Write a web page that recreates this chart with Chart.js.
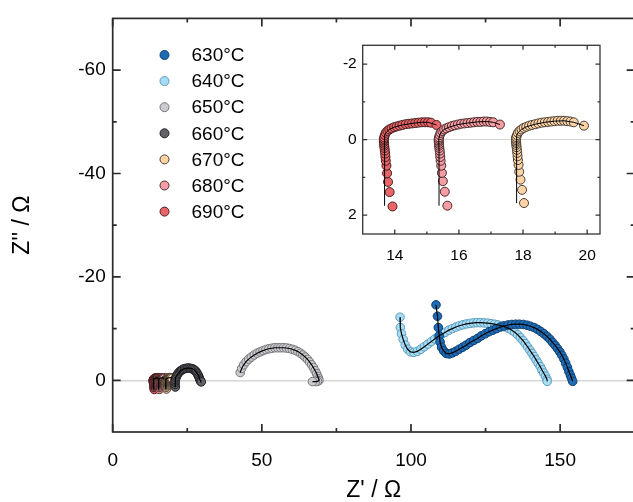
<!DOCTYPE html>
<html>
<head>
<meta charset="utf-8">
<script src="https://cdn.jsdelivr.net/npm/chart.js@4.4.1/dist/chart.umd.min.js"></script>
<style>
  html, body { margin: 0; padding: 0; background: #fff; overflow: hidden; }
  #wrap { position: relative; width: 640px; height: 502px; }
  #main { position: absolute; left: 0; top: 0; }
  #inset { position: absolute; left: 320px; top: 30px; }
</style>
</head>
<body>
<div id="wrap">
  <canvas id="main" width="640" height="502"></canvas>
  <canvas id="inset" width="290" height="240"></canvas>
</div>
<script>
// Nyquist plots (Z' vs Z'') for a cell at 630-690 °C, with a zoom on the
// three hottest runs in the inset.

const fontFamily = "'Liberation Sans', Arial, sans-serif";

const seriesNames = ["630°C", "640°C", "650°C", "660°C", "670°C", "680°C", "690°C"];

// measured points, Z' (re) and Z'' (im) in ohm
const re630 = [108.39, 108.88, 109.17, 109.47, 109.76, 110.25, 110.94, 111.82, 112.80, 113.88,
  114.96, 116.14, 117.32, 118.50, 119.77, 121.05, 122.32, 123.60, 124.87, 126.15,
  127.42, 128.70, 129.97, 131.25, 132.53, 133.80, 135.08, 136.35, 137.63, 138.90,
  140.08, 141.26, 142.43, 143.51, 144.59, 145.58, 146.56, 147.44, 148.32, 149.11,
  149.89, 150.58, 151.27, 151.86, 152.44, 152.93, 153.43, 153.82, 154.21];
const im630 = [-14.6, -12.4, -10.2, -8.6, -7.4, -6.4, -5.7, -5.2, -5.1, -5.3,
  -5.6, -6.0, -6.4, -6.8, -7.3, -7.7, -8.1, -8.6, -9.0, -9.4,
  -9.7, -10.0, -10.3, -10.5, -10.7, -10.8, -10.85, -10.85, -10.8, -10.65,
  -10.45, -10.2, -9.85, -9.45, -9.0, -8.5, -7.95, -7.35, -6.75, -6.15,
  -5.5, -4.85, -4.1, -3.3, -2.5, -1.7, -1.0, -0.4, 0.2];

const re640 = [96.32, 96.42, 96.81, 97.40, 98.09, 98.87, 99.85, 100.93, 102.11, 103.29,
  104.47, 105.64, 106.82, 107.99, 109.17, 110.35, 111.53, 112.71, 113.88, 115.06,
  116.24, 117.42, 118.60, 119.77, 120.95, 122.13, 123.30, 124.48, 125.66, 126.84,
  128.01, 129.19, 130.37, 131.55, 132.72, 133.80, 134.78, 135.77, 136.65, 137.53,
  138.32, 139.10, 139.89, 140.57, 141.26, 141.95, 142.63, 143.32, 143.91, 144.50,
  145.09, 145.58, 145.68];
const im640 = [-12.2, -10.2, -9.0, -7.9, -6.8, -6.0, -5.5, -5.4, -5.6, -6.0,
  -6.5, -7.0, -7.5, -8.0, -8.5, -8.9, -9.3, -9.7, -10.0, -10.3,
  -10.55, -10.75, -10.9, -11.0, -11.1, -11.15, -11.15, -11.1, -11.05, -10.95,
  -10.85, -10.7, -10.55, -10.35, -10.05, -9.7, -9.3, -8.8, -8.25, -7.7,
  -7.1, -6.45, -5.8, -5.2, -4.6, -3.95, -3.3, -2.65, -2.0, -1.4,
  -0.8, -0.2, 0.2];

const re650 = [42.75, 43.24, 43.93, 44.71, 45.59, 46.48, 47.46, 48.44, 49.42, 50.40,
  51.38, 52.36, 53.34, 54.33, 55.31, 56.29, 57.27, 58.25, 59.23, 60.21,
  61.19, 62.08, 62.96, 63.74, 64.53, 65.31, 66.00, 66.69, 67.28, 67.87,
  68.36, 68.75, 69.04, 69.14, 68.65, 67.96, 66.98];
const im650 = [-1.5, -2.3, -3.0, -3.6, -4.1, -4.5, -4.9, -5.25, -5.5, -5.75,
  -5.95, -6.1, -6.2, -6.3, -6.3, -6.3, -6.3, -6.25, -6.15, -6.0,
  -5.8, -5.55, -5.25, -4.9, -4.5, -4.05, -3.55, -3.0, -2.45, -1.85,
  -1.3, -0.75, -0.3, 0.05, 0.2, 0.25, 0.25];

const re660 = [21.0, 20.9, 20.9, 20.9, 21.0, 21.2, 21.4, 21.7, 22.0, 22.4,
  22.8, 23.2, 23.6, 24.1, 24.6, 25.1, 25.6, 26.1, 26.6, 27.0,
  27.4, 27.8, 28.1, 28.4, 28.7, 28.9, 29.1, 29.3, 29.5, 29.7];
const im660 = [1.3, 0.8, 0.4, 0.1, -0.2, -0.5, -0.8, -1.1, -1.4, -1.65,
  -1.85, -2.0, -2.15, -2.25, -2.3, -2.35, -2.35, -2.3, -2.25, -2.15,
  -2.0, -1.8, -1.55, -1.25, -0.95, -0.65, -0.35, -0.05, 0.2, 0.3];

const re670 = [18.03, 17.97, 17.92, 17.88, 17.86, 17.84, 17.83, 17.82, 17.81, 17.80,
  17.79, 17.79, 17.78, 17.78, 17.78, 17.79, 17.81, 17.84, 17.89, 17.95,
  18.02, 18.10, 18.19, 18.28, 18.38, 18.48, 18.58, 18.68, 18.78, 18.88,
  18.98, 19.08, 19.18, 19.28, 19.38, 19.48, 19.58, 19.90];
const im670 = [1.68, 1.33, 1.06, 0.85, 0.67, 0.54, 0.44, 0.35, 0.27, 0.20,
  0.14, 0.09, 0.05, 0.01, -0.03, -0.07, -0.12, -0.18, -0.23, -0.27,
  -0.31, -0.34, -0.37, -0.39, -0.41, -0.43, -0.45, -0.46, -0.47, -0.48,
  -0.49, -0.50, -0.50, -0.50, -0.49, -0.48, -0.46, -0.37];

const re680 = [15.64, 15.56, 15.50, 15.47, 15.45, 15.43, 15.42, 15.41, 15.40, 15.39,
  15.38, 15.38, 15.37, 15.37, 15.37, 15.38, 15.40, 15.43, 15.48, 15.54,
  15.61, 15.69, 15.78, 15.87, 15.97, 16.07, 16.17, 16.27, 16.37, 16.47,
  16.57, 16.67, 16.77, 16.87, 16.97, 17.07, 17.28];
const im680 = [1.75, 1.38, 1.10, 0.88, 0.69, 0.56, 0.46, 0.37, 0.29, 0.22,
  0.16, 0.11, 0.06, 0.02, -0.02, -0.06, -0.12, -0.18, -0.23, -0.27,
  -0.30, -0.33, -0.36, -0.38, -0.40, -0.42, -0.43, -0.44, -0.45, -0.46,
  -0.47, -0.47, -0.48, -0.48, -0.47, -0.46, -0.40];

const re690 = [13.93, 13.84, 13.79, 13.76, 13.74, 13.72, 13.71, 13.70, 13.69, 13.68,
  13.67, 13.67, 13.66, 13.66, 13.66, 13.67, 13.69, 13.72, 13.77, 13.83,
  13.90, 13.98, 14.06, 14.15, 14.24, 14.34, 14.44, 14.54, 14.64, 14.74,
  14.84, 14.94, 15.04, 15.13, 15.30];
const im690 = [1.77, 1.39, 1.12, 0.89, 0.69, 0.56, 0.46, 0.37, 0.29, 0.22,
  0.16, 0.11, 0.06, 0.02, -0.02, -0.06, -0.12, -0.18, -0.23, -0.27,
  -0.30, -0.33, -0.35, -0.37, -0.39, -0.41, -0.42, -0.43, -0.44, -0.45,
  -0.46, -0.46, -0.46, -0.45, -0.39];

// fitted curves for the three hottest runs (vertical inductive tail)
const fitRe670 = [17.80, 17.80, 17.80, 17.79, 17.81, 17.86, 17.95, 18.10, 18.38, 18.68, 18.98, 19.28, 19.58, 19.90];
const fitIm670 = [1.68, 0.8, 0.3, 0.0, -0.12, -0.2, -0.27, -0.34, -0.41, -0.46, -0.49, -0.5, -0.46, -0.37];
const fitRe680 = [15.38, 15.38, 15.38, 15.37, 15.40, 15.45, 15.54, 15.69, 15.97, 16.27, 16.57, 16.87, 17.07, 17.28];
const fitIm680 = [1.75, 0.8, 0.3, 0.0, -0.12, -0.2, -0.27, -0.33, -0.4, -0.44, -0.47, -0.48, -0.46, -0.4];
const fitRe690 = [13.69, 13.69, 13.68, 13.67, 13.69, 13.74, 13.83, 13.98, 14.24, 14.54, 14.84, 15.04, 15.30];
const fitIm690 = [1.75, 0.8, 0.3, 0.0, -0.12, -0.2, -0.27, -0.33, -0.39, -0.43, -0.46, -0.46, -0.39];

const mainXTicks = [0, 50, 100, 150];
const mainXMinor = [25, 75, 125];
const mainYTicks = [-60, -40, -20, 0];
const mainYMinor = [-50, -30, -10];
const insetXTicks = [14, 16, 18, 20];
const insetXMinor = [15, 17, 19];
const insetYTicks = [-2, 0, 2];
const insetYMinor = [-1, 1];

const fills = ["#1f6bb4", "#a8dcf4", "#cbcbcf", "#646468", "#fcd3a6", "#f49ea3", "#ea6468"];
const edges = ["#0e3f73", "#5d9dbd", "#77777b", "#222226", "#4a3e33", "#4a2a2c", "#45201f"];

const seriesRe = [re630, re640, re650, re660, re670, re680, re690];
const seriesIm = [im630, im640, im650, im660, im670, im680, im690];
const fitRe = [re630, re640, re650, re660, fitRe670, fitRe680, fitRe690];
const fitIm = [im630, im640, im650, im660, fitIm670, fitIm680, fitIm690];

function pts(xs, ys) {
  return xs.map((x, i) => ({ x: x, y: ys[i] }));
}

function buildSets(indices, radius, lineWidth) {
  const sets = [];
  indices.forEach((i) => {
    sets.push({
      label: seriesNames[i],
      data: pts(seriesRe[i], seriesIm[i]),
      showLine: false,
      pointRadius: radius,
      pointBackgroundColor: fills[i],
      pointBorderColor: edges[i],
      pointBorderWidth: 1,
      order: i + 1,
    });
    sets.push({
      label: seriesNames[i] + " fit",
      data: pts(fitRe[i], fitIm[i]),
      showLine: true,
      pointRadius: 0,
      borderColor: "#000",
      borderWidth: lineWidth,
      tension: 0,
      order: 0,
    });
  });
  return sets;
}

// box frame with inward major/minor ticks on all four sides
const framePlugin = {
  id: "frame",
  afterDatasetsDraw(chart, args, o) {
    const { ctx, chartArea: a } = chart;
    const sx = chart.scales.x;
    const sy = chart.scales.y;
    ctx.save();
    ctx.strokeStyle = o.color;
    ctx.lineWidth = o.width;
    ctx.beginPath();
    const xMarks = (vals, len) => {
      vals.forEach((v) => {
        const px = sx.getPixelForValue(v);
        ctx.moveTo(px, a.bottom);
        ctx.lineTo(px, a.bottom - len);
        ctx.moveTo(px, a.top);
        ctx.lineTo(px, a.top + len);
      });
    };
    const yMarks = (vals, len) => {
      vals.forEach((v) => {
        const py = sy.getPixelForValue(v);
        ctx.moveTo(a.left, py);
        ctx.lineTo(a.left + len, py);
        ctx.moveTo(a.right, py);
        ctx.lineTo(a.right - len, py);
      });
    };
    xMarks(o.xMajor, o.majorLen);
    xMarks(o.xMinor, o.minorLen);
    yMarks(o.yMajor, o.majorLen);
    yMarks(o.yMinor, o.minorLen);
    ctx.stroke();
    ctx.strokeRect(a.left, a.top, a.right - a.left, a.bottom - a.top);
    ctx.restore();
  },
};

// legend drawn inside the plot, top left
const legendPlugin = {
  id: "tempLegend",
  afterDraw(chart, args, o) {
    const ctx = chart.ctx;
    ctx.save();
    ctx.font = o.font;
    ctx.textBaseline = "middle";
    seriesNames.forEach((name, i) => {
      const yy = o.top + i * o.step;
      ctx.beginPath();
      ctx.arc(o.left, yy, o.radius, 0, Math.PI * 2);
      ctx.fillStyle = fills[i];
      ctx.fill();
      ctx.strokeStyle = edges[i];
      ctx.lineWidth = 1;
      ctx.stroke();
      ctx.fillStyle = "#000";
      ctx.fillText(name, o.textLeft, yy + 1);
    });
    ctx.restore();
  },
};

const zeroGrid = (color, width) => ({
  display: true,
  drawTicks: false,
  lineWidth: width,
  color: (c) => (c.tick && c.tick.value === 0 ? color : "rgba(0,0,0,0)"),
});

new Chart(document.getElementById("main"), {
  type: "scatter",
  data: { datasets: buildSets([0, 1, 2, 3, 4, 5, 6], 4.3, 1.2) },
  plugins: [framePlugin, legendPlugin],
  options: {
    responsive: false,
    devicePixelRatio: 1,
    animation: false,
    layout: { padding: { top: 12.7, right: 5.3, left: 0, bottom: 0 } },
    scales: {
      x: {
        type: "linear",
        min: 0,
        max: 175,
        afterFit: (s) => { s.height = 70; },
        afterBuildTicks: (s) => { s.ticks = mainXTicks.map((v) => ({ value: v })); },
        grid: { display: false },
        border: { display: false },
        ticks: { color: "#000", padding: 9, font: { family: fontFamily, size: 19 } },
        title: {
          display: true,
          text: "Z' / Ω",
          color: "#000",
          padding: { top: 0, bottom: 0 },
          font: { family: fontFamily, size: 23, lineHeight: 1 },
        },
      },
      y: {
        type: "linear",
        min: -70,
        max: 10,
        reverse: true,
        afterFit: (s) => { s.width = 112.7; },
        afterBuildTicks: (s) => { s.ticks = mainYTicks.map((v) => ({ value: v })); },
        grid: zeroGrid("#d6d6d6", 1.5),
        border: { display: false },
        ticks: { color: "#000", padding: 7, font: { family: fontFamily, size: 19 } },
        title: {
          display: true,
          text: "Z'' / Ω",
          color: "#000",
          padding: { top: 11, bottom: 0 },
          font: { family: fontFamily, size: 23, lineHeight: 1 },
        },
      },
    },
    plugins: {
      legend: { display: false },
      tooltip: { enabled: false },
      frame: {
        color: "#2b2b2b", width: 1.7, majorLen: 8, minorLen: 4,
        xMajor: mainXTicks, xMinor: mainXMinor, yMajor: mainYTicks, yMinor: mainYMinor,
      },
      tempLegend: {
        font: "19px " + fontFamily, left: 164.5, textLeft: 191.5, top: 55, step: 26.1, radius: 4.5,
      },
    },
  },
});

new Chart(document.getElementById("inset"), {
  type: "scatter",
  data: { datasets: buildSets([4, 5, 6], 4.5, 1) },
  plugins: [framePlugin],
  options: {
    responsive: false,
    devicePixelRatio: 1,
    animation: false,
    layout: { padding: { top: 12.3, right: 10, left: 0, bottom: 0 } },
    scales: {
      x: {
        type: "linear",
        min: 13,
        max: 20.4,
        afterFit: (s) => { s.height = 36; },
        afterBuildTicks: (s) => { s.ticks = insetXTicks.map((v) => ({ value: v })); },
        grid: { display: false },
        border: { display: false },
        ticks: { color: "#000", padding: 4, font: { family: fontFamily, size: 15.5 } },
      },
      y: {
        type: "linear",
        min: -2.5,
        max: 2.5,
        reverse: true,
        afterFit: (s) => { s.width = 42.7; },
        afterBuildTicks: (s) => { s.ticks = insetYTicks.map((v) => ({ value: v })); },
        grid: zeroGrid("#d6d6d6", 1),
        border: { display: false },
        ticks: { color: "#000", padding: 6, font: { family: fontFamily, size: 15.5 } },
      },
    },
    plugins: {
      legend: { display: false },
      tooltip: { enabled: false },
      frame: {
        color: "#333", width: 1.3, majorLen: 4.5, minorLen: 2.5,
        xMajor: insetXTicks, xMinor: insetXMinor, yMajor: insetYTicks, yMinor: insetYMinor,
      },
    },
  },
});
</script>
</body>
</html>
